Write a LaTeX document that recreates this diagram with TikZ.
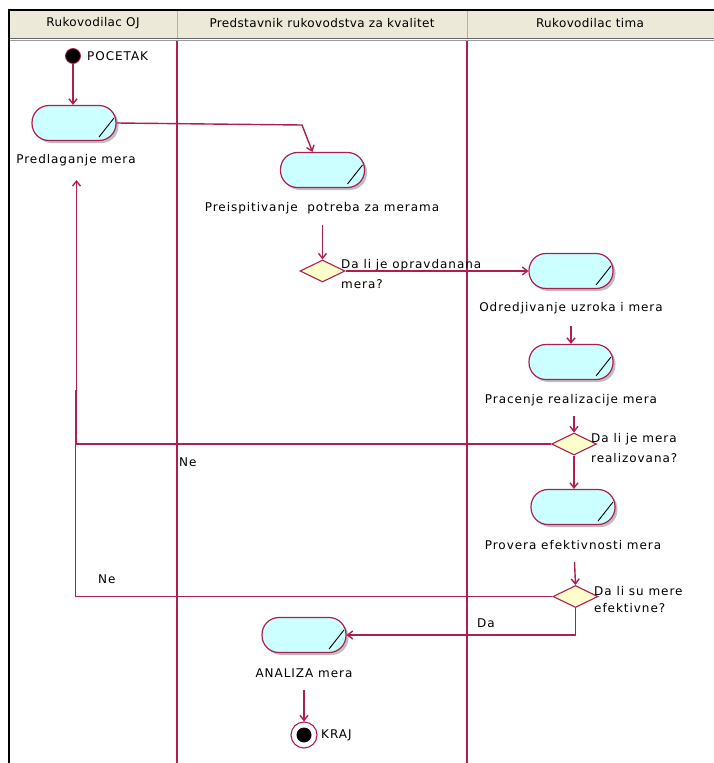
\documentclass[tikz,border=0pt]{standalone}
\usepackage{fontspec}
\setmainfont{DejaVu Sans}
\newfontfamily\lblfont[LetterSpace=8]{DejaVu Sans}
\newfontfamily\hdrfont[LetterSpace=3]{DejaVu Sans}
\usetikzlibrary{shapes.geometric,arrows.meta,shadows}
\definecolor{uml}{RGB}{175,30,80}
\definecolor{actfill}{RGB}{204,255,255}
\definecolor{decfill}{RGB}{255,255,204}
\definecolor{hdrfill}{RGB}{236,233,216}
\tikzset{
  activity/.style={draw=uml, line width=1.2pt, fill=actfill, rounded corners=17pt,
    minimum width=84pt, minimum height=35pt, inner sep=0pt,
    drop shadow={shadow xshift=2.5pt, shadow yshift=-2.5pt, fill=black!25, opacity=1}},
  decision/.style={diamond, draw=uml, line width=1.1pt, fill=decfill,
    minimum width=45pt, minimum height=22pt, inner sep=0pt},
  flow/.style={draw=uml, line width=1.4pt, -{Straight Barb[length=5pt,width=8pt]}},
  conn/.style={draw=uml, line width=1.4pt},
  lbl/.style={font=\lblfont\fontsize{12}{14}\selectfont, inner sep=0pt},
  hdr/.style={font=\hdrfont\fontsize{12}{14}\selectfont, inner sep=0pt},
  startdot/.style={circle, fill=black, draw=uml, line width=0.8pt, minimum size=15pt, inner sep=0pt},
  endring/.style={circle, fill=white, draw=uml, line width=1.1pt, minimum size=26pt, inner sep=0pt},
  endcoreb/.style={circle, fill=black, minimum size=15pt, inner sep=0pt},
  slash/.style={draw=black, line width=0.9pt},
  lane/.style={draw=uml, line width=1.4pt}
}
\begin{document}
\begin{tikzpicture}[x=1pt,y=-1pt]
\useasboundingbox (0,0) rectangle (714,763);
\fill[white] (0,0) rectangle (714,763);

% swimlane header
\fill[hdrfill] (8,10) rectangle (714,38);
\draw[black!60, line width=1pt] (8,38.5) -- (714,38.5);
\draw[black!40, line width=1pt] (8,40.5) -- (714,40.5);
\draw[black!30, line width=1pt] (177,10) -- (177,38);
\draw[black!30, line width=1pt] (467,10) -- (467,38);
\draw[black, line width=1.5pt] (8,10) -- (714,10);
\node[hdr] (h1) at (93,23) {Rukovodilac OJ};
\node[hdr] (h2) at (322,23) {Predstavnik rukovodstva za kvalitet};
\node[hdr] (h3) at (590,23) {Rukovodilac tima};

% lane separators and outer border
\draw[lane] (177,41) -- (177,763);
\draw[lane] (467,41) -- (467,763);
\draw[black, line width=2pt] (9,10) -- (9,763);

% start
\node[startdot] (start) at (73,56) {};
\node[lbl, anchor=west] (startl) at (87,56) {POCETAK};

% activities
\node[activity] (a1) at (74,123) {};
\node[lbl] (a1l) at (76,160) {Predlaganje mera};
\node[activity] (a2) at (322.5,170) {};
\node[lbl] (a2l) at (322,208) {Preispitivanje\ \ potreba za merama};
\node[activity] (a3) at (571,271) {};
\node[lbl] (a3l) at (571,308) {Odredjivanje uzroka i mera};
\node[activity] (a4) at (571,362) {};
\node[lbl] (a4l) at (571,400) {Pracenje realizacije mera};
\node[activity] (a5) at (573,507) {};
\node[lbl] (a5l) at (573,545) {Provera efektivnosti mera};
\node[activity] (a6) at (304,635) {};
\node[lbl] (a6l) at (304,673) {ANALIZA mera};

\foreach \n in {a1,a2,a3,a4,a5,a6}{
  \draw[slash] ([shift={(25,14)}]\n.center) -- ([shift={(40,-5)}]\n.center);
}

% decisions
\node[decision] (d1) at (322.5,271) {};
\node[lbl, anchor=west] (d1l1) at (341,265) {Da li je opravdanana};
\node[lbl, anchor=west] (d1l2) at (341,284) {mera?};
\node[decision] (d2) at (574,444) {};
\node[lbl, anchor=west] (d2l1) at (591,439) {Da li je mera};
\node[lbl, anchor=west] (d2l2) at (591,458) {realizovana?};
\node[decision] (d3) at (575.5,596.5) {};
\node[lbl, anchor=west] (d3l1) at (594,591) {Da li su mere};
\node[lbl, anchor=west] (d3l2) at (594,608) {efektivne?};

% end
\node[endring] (stop) at (304,735) {};
\node[endcoreb] (stopcore) at (stop) {};
\node[lbl, anchor=west] (stopl) at (321,735) {KRAJ};

% connector anchors
\coordinate (k1) at (302,125);
\coordinate (s2) at (322.5,225);
\coordinate (s3) at (571,326);
\coordinate (s4) at (574,416);
\coordinate (s5) at (574.5,562);
\coordinate (s6) at (304,690);
\coordinate (back) at (76.5,180);
\coordinate (merge) at (75.5,390);

% connectors
\draw[flow] (start) -- (start |- a1.north);
\draw[flow] (a1.east) -- (k1) -- ([xshift=-10pt]a2.north);
\draw[flow] (s2) -- (d1.north);
\draw[flow] (d1.east) -- (a3.west);
\draw[flow] (s3) -- (a4.north);
\draw[flow] (s4) -- (d2.north);
\draw[flow] (d2.south) -- (d2.south |- a5.north);
\draw[flow] (s5) -- (d3.north);
\draw[flow] (d3.south) |- (a6.east);
\draw[flow] (s6) -- (stop.north);
\draw[flow] (d2.west) -| (back);
\draw[conn] (d3.west) -| (merge);

% branch labels
\node[lbl, anchor=west] (ne1) at (179,462) {Ne};
\node[lbl, anchor=west] (ne2) at (98,579) {Ne};
\node[lbl, anchor=west] (da) at (477,623) {Da};
\end{tikzpicture}
\end{document}
